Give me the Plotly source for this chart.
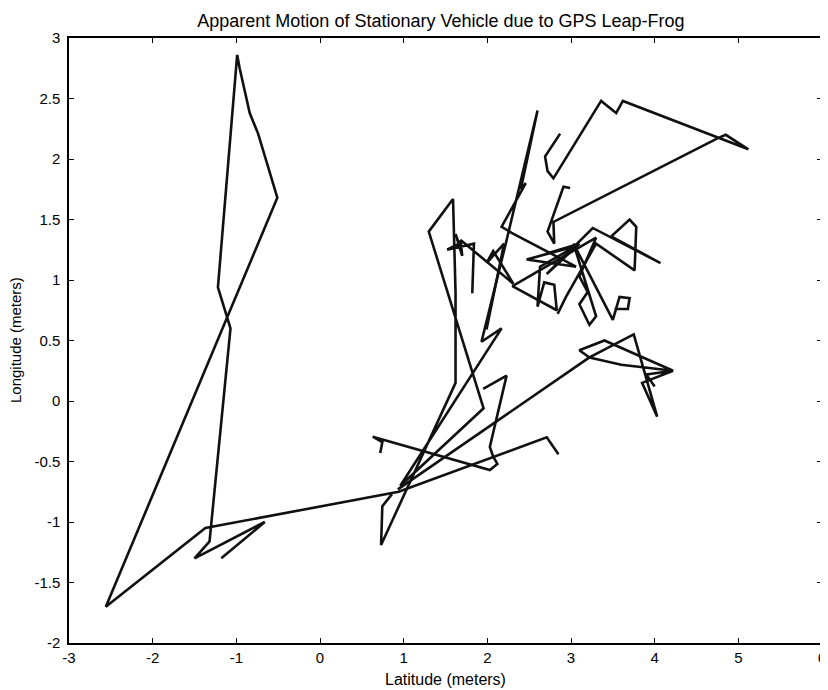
import plotly.graph_objects as go

# ---- data (meters) ----
seg1_x = [-1.18, -0.66, -1.50, -1.32, -1.07, -1.22, -0.99, -0.96, -0.84, -0.74, -0.51, -2.56, -1.37, 0.94, 2.71, 2.85]
seg1_y = [-1.30, -1.00, -1.30, -1.16, 0.60, 0.94, 2.86, 2.75, 2.38, 2.21, 1.68, -1.70, -1.05, -0.75, -0.30, -0.44]

seg2_x = [1.95, 2.23, 2.03, 2.07, 2.12, 2.03, 0.63, 0.745, 0.72]
seg2_y = [0.10, 0.21, -0.38, -0.46, -0.52, -0.57, -0.295, -0.34, -0.43]

seg3_x = [0.86, 0.80, 0.745, 0.73, 1.62, 1.62, 1.59, 1.30, 1.955, 0.96, 2.17, 1.93, 2.22, 2.60, 2.40,
          2.46, 2.17, 2.29, 3.06, 2.47, 3.06, 2.63, 2.60, 2.68, 2.80, 2.83, 2.30, 3.30, 3.10, 3.20,
          3.10, 3.22, 3.30, 3.03, 3.50, 3.58, 3.70, 3.68, 3.52]
seg3_y = [-0.77, -0.82, -0.87, -1.19, 0.15, 0.90, 1.67, 1.40, -0.06, -0.70, 0.60, 0.49, 1.30, 2.40, 1.75,
          1.80, 1.44, 1.39, 1.11, 1.17, 1.28, 1.11, 0.78, 0.98, 0.96, 0.75, 0.95, 1.35, 1.03, 0.90,
          0.80, 0.63, 0.70, 1.30, 0.67, 0.86, 0.85, 0.76, 0.76]

seg4_x = [1.84, 1.82, 1.84, 1.52, 1.66, 1.62, 1.70, 1.68, 2.31, 2.07, 1.99, 2.20, 1.99]
seg4_y = [1.30, 0.89, 1.30, 1.25, 1.30, 1.38, 1.20, 1.33, 0.97, 1.24, 1.14, 1.30, 0.59]

seg5_x = [2.87, 2.69, 2.72, 2.79, 3.36, 3.54, 3.62, 5.12, 4.85, 4.75, 2.79, 2.80, 2.72, 2.91, 2.99]
seg5_y = [2.21, 2.02, 1.90, 1.84, 2.48, 2.38, 2.48, 2.08, 2.20, 2.17, 1.48, 1.30, 1.40, 1.77, 1.76]

seg6_x = [0.93, 3.22, 3.10, 3.40, 4.22, 3.60, 3.22, 3.75, 4.03, 3.85, 4.22, 3.90, 4.00]
seg6_y = [-0.73, 0.36, 0.42, 0.50, 0.25, 0.30, 0.36, 0.55, -0.13, 0.15, 0.25, 0.22, 0.12]

seg7_x = [2.71, 3.10, 2.71, 3.07, 3.26, 4.07, 3.48, 3.70, 3.78, 3.76, 3.30, 2.94, 2.84]
seg7_y = [1.22, 1.30, 1.05, 1.30, 1.43, 1.14, 1.36, 1.50, 1.44, 1.08, 1.30, 0.86, 0.72]

segments = [(seg1_x, seg1_y), (seg2_x, seg2_y), (seg3_x, seg3_y), (seg4_x, seg4_y),
            (seg5_x, seg5_y), (seg6_x, seg6_y), (seg7_x, seg7_y)]

x_ticks = [-3, -2, -1, 0, 1, 2, 3, 4, 5, 6]
x_labels = ["-3", "-2", "-1", "0", "1", "2", "3", "4", "5", "6"]
y_ticks = [-2, -1.5, -1, -0.5, 0, 0.5, 1, 1.5, 2, 2.5, 3]
y_labels = ["-2", "-1.5", "-1", "-0.5", "0", "0.5", "1", "1.5", "2", "2.5", "3"]

title_text = "Apparent Motion of Stationary Vehicle due to GPS Leap-Frog"
x_title = "Latitude (meters)"
y_title = "Longitude (meters)"

fig = go.Figure()
for sx, sy in segments:
    fig.add_trace(go.Scatter(x=sx, y=sy, mode="lines",
                             line=dict(color="#111111", width=2.6),
                             showlegend=False, hoverinfo="skip"))

font_family = "Arial, 'Liberation Sans', Helvetica, sans-serif"
axis_common = dict(showline=True, linecolor="black", linewidth=1.5, mirror="allticks",
                   ticks="inside", ticklen=5, tickwidth=1, tickcolor="black",
                   showgrid=False, zeroline=False, ticklabeloverflow="allow",
                   tickfont=dict(family=font_family, size=15, color="black"))

# the page body adds an 8px offset, so the figure is 820x682 to fill the 828x690 window
fig.update_layout(
    width=820, height=682,
    margin=dict(l=61, r=2, t=30, b=47),
    paper_bgcolor="white", plot_bgcolor="white",
    title=dict(text=title_text,
               x=0.528, xanchor="center", y=0.982, yanchor="middle",
               font=dict(family=font_family, size=18, color="black")),
    xaxis=dict(range=[-3, 6], tickvals=x_ticks, ticktext=x_labels, **axis_common),
    yaxis=dict(range=[-2, 3], tickvals=y_ticks, ticktext=y_labels,
               ticklabelstandoff=4, **axis_common),
)

fig.add_annotation(text=x_title, xref="paper", yref="paper", x=0.5, y=-0.06,
                   xanchor="center", yanchor="middle", showarrow=False,
                   font=dict(family=font_family, size=16, color="black"))
fig.add_annotation(text=y_title, xref="paper", yref="paper", x=-0.071, y=0.5,
                   xanchor="center", yanchor="middle", textangle=-90, showarrow=False,
                   font=dict(family=font_family, size=15, color="black"))

fig.write_html("out.html")
